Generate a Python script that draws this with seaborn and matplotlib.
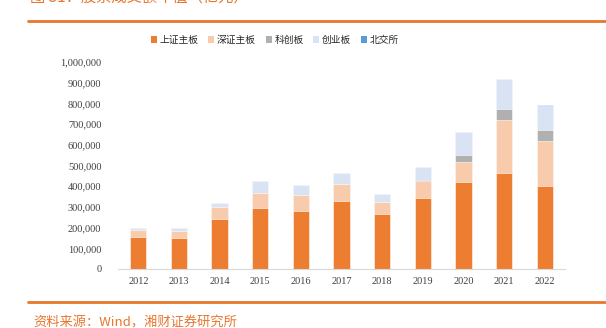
import matplotlib
matplotlib.use("Agg")
import matplotlib.pyplot as plt
import seaborn as sns
import numpy as np
import pandas as pd
from matplotlib.patches import Patch
from matplotlib.lines import Line2D
from matplotlib.ticker import FuncFormatter

years = ["2012", "2013", "2014", "2015", "2016", "2017", "2018", "2019", "2020", "2021", "2022"]
series_names = ["上证主板", "深证主板", "科创板", "创业板", "北交所"]
sh_main = [156000, 150000, 243000, 293000, 282000, 330000, 267000, 345000, 420000, 462000, 402000]
sz_main = [34000, 35000, 55000, 76000, 74000, 82000, 55000, 80000, 98000, 258000, 215000]
star = [0, 0, 0, 0, 0, 0, 0, 6000, 33000, 53000, 56000]
chinext = [9500, 14500, 22000, 58000, 51000, 50000, 40000, 62000, 111000, 143000, 116000]
bse = [0, 0, 0, 0, 0, 0, 0, 0, 1000, 2000, 3000]
colors = ["#ED7D31", "#F8CBAD", "#B0B0B0", "#DAE3F3", "#5B9BD5"]

sns.set_theme(style="white")
plt.rcParams["font.family"] = ["Liberation Serif", "Noto Sans CJK SC", "DejaVu Sans"]

fig = plt.figure(figsize=(6.06, 3.28), dpi=100)
ax = fig.add_axes([118/606, (328-269)/328, (565-118)/606, (269-62)/328])

vals = np.array([sh_main, sz_main, star, chinext, bse], dtype=float)
cum = np.cumsum(vals, axis=0)
for i in range(len(series_names) - 1, -1, -1):
    df = pd.DataFrame({"year": years, "v": cum[i]})
    sns.barplot(data=df, x="year", y="v", color=colors[i], width=0.4,
                saturation=1, edgecolor="white", linewidth=0.4, ax=ax)

ax.set_xlim(-0.5, 10.5)
ax.set_ylim(0, 1000000)
ax.set_yticks(np.arange(0, 1000001, 100000))
ax.yaxis.set_major_formatter(FuncFormatter(lambda v, p: f"{int(v):,}"))
ax.set_xlabel("")
ax.set_ylabel("")
for s in ["top", "right", "left"]:
    ax.spines[s].set_visible(False)
ax.spines["bottom"].set_color("#D9D9D9")
ax.spines["bottom"].set_linewidth(0.8)
ax.tick_params(axis="both", length=0, labelsize=7.5, labelcolor="#404040", pad=6)
ax.tick_params(axis="y", pad=12)

handles = [Patch(facecolor=c, edgecolor="none") for c in colors]
fig.legend(handles, series_names, loc="center", bbox_to_anchor=(275/606, 1-40/328),
           ncol=5, frameon=False, prop={"family": ["Noto Sans CJK SC"], "size": 7},
           handlelength=0.6, handleheight=0.6, handletextpad=0.3, columnspacing=1.0)

orange = "#E8762D"
fig.add_artist(Line2D([28/606, 1], [1-21/328, 1-21/328], color=orange, lw=2, transform=fig.transFigure))
fig.add_artist(Line2D([28/606, 1], [1-302/328, 1-302/328], color=orange, lw=2, transform=fig.transFigure))

fig.text(30/606, 1+3/328, "图 31：股票成交额年值（亿元）", color=orange, fontsize=11,
         va="center", ha="left", family=["Noto Sans CJK SC", "DejaVu Sans"])
fig.text(33/606, 1-323/328, "资料来源：Wind，湘财证券研究所", color=orange, fontsize=9.5,
         va="center", ha="left", family=["Noto Sans CJK SC", "DejaVu Sans"])

fig.savefig("out.png", dpi=100)
